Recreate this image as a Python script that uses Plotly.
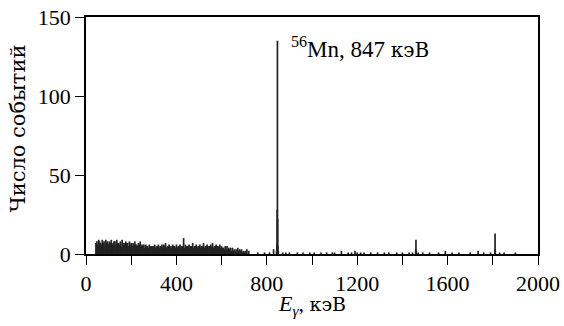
import plotly.graph_objects as go

# Low-energy continuum: channels every 4 keV starting at 44 keV
noise_start = 44
noise_step = 4
noise_counts = [
    7, 8, 6, 9, 8, 7, 6, 9, 7, 8, 5, 9, 7, 8, 6, 8, 7, 9, 6, 7, 8, 8, 6, 9, 7, 7,
    6, 8, 5, 9, 7, 7, 6, 8, 7, 7, 5, 8, 6, 7, 5, 7, 6, 8, 6, 6, 5, 7, 6, 8, 5, 6,
    5, 6, 4, 6, 5, 5, 4, 6, 5, 5, 4, 5, 5, 6, 4, 5, 5, 6, 4, 5, 5, 6, 4, 6, 5, 7,
    4, 5, 5, 6, 4, 5, 4, 6, 5, 5, 4, 6, 4, 5, 5, 6, 4, 5, 5, 10, 4, 6, 5, 5,
    5, 6, 4, 5, 5, 7, 4, 5, 5, 6, 4, 5, 5, 6, 4, 5, 5, 7, 4, 5, 5, 6, 4, 5, 5, 6,
    5, 7, 4, 5, 5, 6, 5, 5, 4, 6, 4, 5, 4, 4, 3, 5, 3, 5, 3, 4, 3, 4, 2, 4,
    2, 3, 2, 3, 1, 4, 2, 3, 2, 3, 1, 2, 1, 2, 1, 3, 0, 2,
]

# Peaks and sparse high-energy channels
line_energy = [760, 790, 812, 830, 843, 845, 846, 847, 848, 849, 851, 870, 884, 900,
               935, 960, 990, 1010, 1040, 1065, 1090, 1100, 1130, 1160, 1175, 1190,
               1200, 1215, 1230, 1260, 1290, 1320, 1340, 1375, 1400, 1430, 1445,
               1459, 1460, 1461, 1470, 1490, 1520, 1560, 1590, 1620, 1650, 1700,
               1735, 1760, 1790, 1809, 1810, 1811, 1830, 1850, 1900]
line_counts = [1, 1, 1, 3, 2, 6, 28, 135, 22, 5, 2, 1, 1, 1,
               1, 1, 1, 1, 1, 1, 1, 1, 2, 1, 1, 2,
               1, 1, 1, 1, 1, 1, 1, 1, 1, 1, 1,
               3, 9, 2, 1, 1, 1, 1, 2, 1, 1, 1,
               2, 1, 1, 3, 13, 2, 1, 1, 1]

x_ticks = list(range(0, 2001, 200))
x_labels = [str(v) if v % 400 == 0 else "" for v in x_ticks]
y_ticks = [0, 50, 100, 150]

energies = [noise_start + i * noise_step for i in range(len(noise_counts))] + line_energy
counts = noise_counts + line_counts

xs, ys = [], []
for e, c in zip(energies, counts):
    xs += [e, e, None]
    ys += [0, c, None]

LAT = "Liberation Serif"
CYR = "DejaVu Serif"

def cyr(t, size):
    return f'<span style="font-family:{CYR};font-size:{size}px">{t}</span>'

fig = go.Figure()
fig.add_trace(go.Scatter(x=xs, y=ys, mode="lines",
                         line=dict(color="#222222", width=1.7),
                         hoverinfo="skip", showlegend=False))

axis_common = dict(showline=True, linecolor="black", linewidth=1.5, mirror=True,
                   ticks="outside", ticklen=9, tickwidth=1.2, tickcolor="black",
                   showgrid=False, zeroline=False, automargin=False,
                   tickfont=dict(family=LAT, size=22, color="black"))

fig.update_xaxes(range=[0, 2000], tickvals=x_ticks, ticktext=x_labels, **axis_common)
fig.update_yaxes(range=[0, 150], tickvals=y_ticks, **axis_common)

fig.add_annotation(x=0.5, y=-0.215, xref="paper", yref="paper",
                   text="<i>E</i><sub><i>γ</i></sub>, " + cyr("кэВ", 19), showarrow=False,
                   font=dict(family=LAT, size=22, color="black"),
                   xanchor="center", yanchor="middle")
fig.add_annotation(x=-0.15, y=0.53, xref="paper", yref="paper",
                   text="Число событий", textangle=-90, showarrow=False,
                   font=dict(family=CYR, size=21, color="black"),
                   xanchor="center", yanchor="middle")
fig.add_annotation(x=900, y=131, xref="x", yref="y",
                   text="<sup>56</sup>Mn, 847 " + cyr("кэВ", 20), showarrow=False,
                   font=dict(family=LAT, size=23, color="black"),
                   xanchor="left", yanchor="middle")

fig.update_layout(width=564, height=326,
                  margin=dict(l=86, r=26, t=17, b=72),
                  paper_bgcolor="white", plot_bgcolor="white")

fig.write_html("out.html", config={"displayModeBar": False},
               post_script="document.body.style.margin='0';")
